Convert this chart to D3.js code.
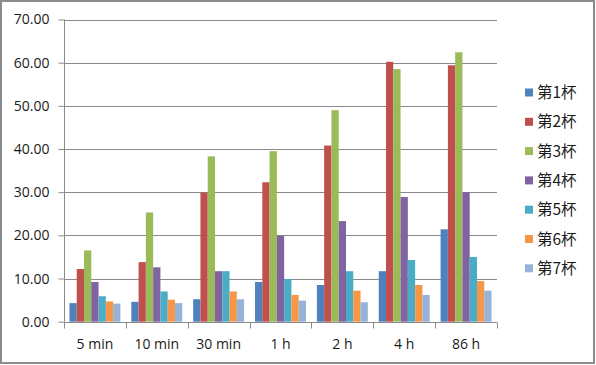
<!DOCTYPE html>
<html><head><meta charset="utf-8">
<script src="https://cdn.jsdelivr.net/npm/d3@7"></script>
<style>body{margin:0;background:#fff}svg{display:block}</style>
</head><body>
<script>
const categories = ["5 min","10 min","30 min","1 h","2 h","4 h","86 h"];
const seriesNames = ["第1杯","第2杯","第3杯","第4杯","第5杯","第6杯","第7杯"];
const s1 = [4.3, 4.6, 5.2, 9.2, 8.5, 11.7, 21.4];
const s2 = [12.2, 13.8, 29.9, 32.3, 40.8, 60.2, 59.4];
const s3 = [16.5, 25.3, 38.3, 39.5, 49.0, 58.5, 62.4];
const s4 = [9.2, 12.6, 11.7, 19.9, 23.3, 28.9, 30.0];
const s5 = [5.9, 7.0, 11.7, 9.9, 11.7, 14.3, 15.0];
const s6 = [4.7, 5.1, 7.0, 6.2, 7.2, 8.5, 9.4];
const s7 = [4.2, 4.3, 5.2, 4.9, 4.5, 6.2, 7.2];
const yTicks = [0,10,20,30,40,50,60,70];
const colors = ["#4F81BD","#C0504D","#9BBB59","#8064A2","#4BACC6","#F79646","#95B3D7"];
const series = [s1,s2,s3,s4,s5,s6,s7];

(function(){
const W=596,H=365;
const svg=d3.select("body").append("svg").attr("width",W).attr("height",H);
svg.append("rect").attr("x",1).attr("y",1).attr("width",W-3).attr("height",H-3)
  .attr("fill","#fff").attr("stroke","#8c8c8c").attr("stroke-width",2);

const pL=64,pR=497,pT=19.5,pB=321.7;
const x=d3.scaleBand().domain(categories).range([pL,pR]).paddingInner(0).paddingOuter(0);
const y=d3.scaleLinear().domain([0,70]).range([pB,pT]);
const gap=1.5, n=7;
const bw=x.bandwidth()/(n+gap);
const x1=d3.scaleBand().domain(d3.range(n)).range([bw*gap/2, bw*gap/2+bw*n]);

svg.append("g").selectAll("line").data(yTicks.filter(d=>d>0)).join("line")
  .attr("x1",pL).attr("x2",pR).attr("y1",d=>Math.round(y(d))+0.5).attr("y2",d=>Math.round(y(d))+0.5)
  .attr("stroke","#8a8a8a").attr("stroke-width",1);

const g=svg.append("g");
categories.forEach((c,i)=>{
  series.forEach((s,j)=>{
    g.append("rect").attr("x",x(c)+x1(j)).attr("width",x1.bandwidth())
     .attr("y",y(s[i])).attr("height",y(0)-y(s[i])).attr("fill",colors[j]);
  });
});

const yAxis=d3.axisLeft(y).tickValues(yTicks).tickFormat(d3.format(".2f")).tickSize(6).tickPadding(9);
const ya=svg.append("g").attr("transform",`translate(${pL+0.5},0)`).call(yAxis);
ya.select(".domain").attr("stroke","#8a8a8a").attr("d",`M0,${pT}V${pB}`);
ya.selectAll(".tick line").attr("stroke","#8a8a8a");
ya.selectAll("text").attr("font-family","'Open Sans','Noto Sans',sans-serif").attr("font-size",14).attr("fill","#1a1a1a");

const xa=svg.append("g").attr("transform",`translate(0,${Math.round(pB)+0.5})`);
xa.append("line").attr("x1",pL).attr("x2",pR).attr("stroke","#8a8a8a");
xa.selectAll(".tk").data(d3.range(categories.length+1)).join("line").attr("class","tk")
  .attr("x1",d=>Math.round(pL+d*x.bandwidth())+0.5).attr("x2",d=>Math.round(pL+d*x.bandwidth())+0.5)
  .attr("y1",0).attr("y2",6).attr("stroke","#8a8a8a");
xa.selectAll(".lb").data(categories).join("text").attr("class","lb")
  .attr("x",d=>x(d)+x.bandwidth()/2).attr("y",26).attr("text-anchor","middle")
  .attr("font-family","'Open Sans','Noto Sans',sans-serif").attr("font-size",14).attr("fill","#1a1a1a").text(d=>d);

const lg=svg.append("g");
seriesNames.forEach((nm,i)=>{
  const yy=92.5+i*29.3;
  lg.append("rect").attr("x",525).attr("y",yy-4).attr("width",8).attr("height",8).attr("fill",colors[i]);
  lg.append("text").attr("x",537).attr("y",yy+5.5).attr("font-family","'Noto Sans CJK SC',sans-serif")
    .attr("font-size",15.5).attr("fill","#1a1a1a").text(nm);
});
})();
</script>
</body></html>
